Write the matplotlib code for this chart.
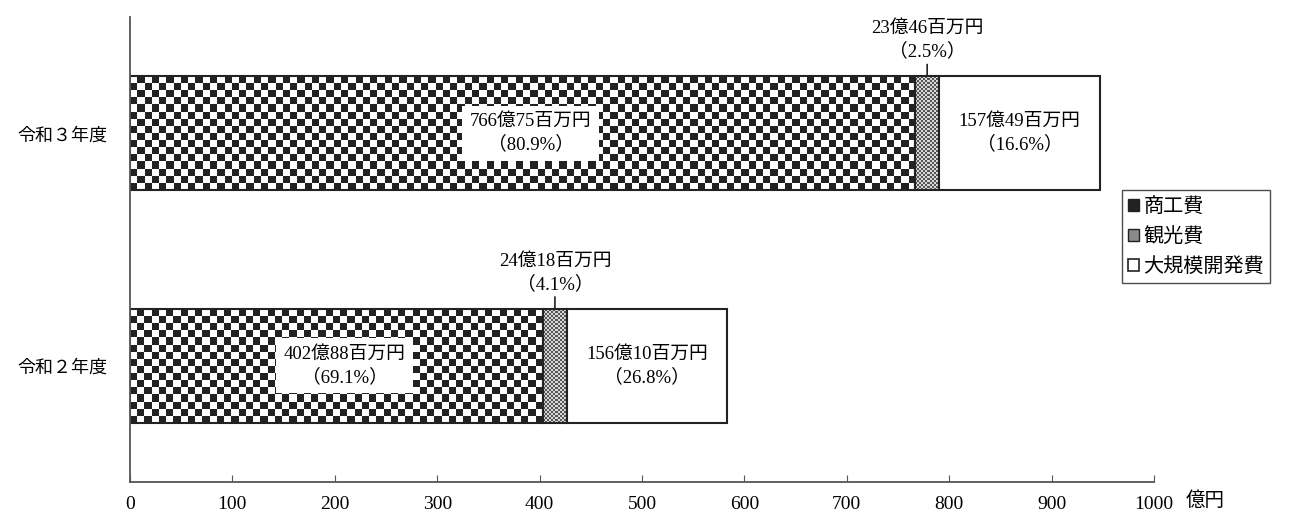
import numpy as np
import matplotlib
matplotlib.use("Agg")
import matplotlib.pyplot as plt
from matplotlib.colors import ListedColormap
from matplotlib.patches import Patch

plt.rcParams['font.family'] = ['Liberation Serif', 'Noto Sans CJK JP', 'DejaVu Sans']

# データ（単位：億円）
years = ['令和２年度', '令和３年度']
shoko = [402.88, 766.75]      # 商工費
kanko = [24.18, 23.46]        # 観光費
daikibo = [156.10, 157.49]    # 大規模開発費
shoko_pct = [69.1, 80.9]
kanko_pct = [4.1, 2.5]
daikibo_pct = [26.8, 16.6]
series_names = ['商工費', '観光費', '大規模開発費']
xticks = list(range(0, 1001, 100))

jp = ['Liberation Serif', 'Noto Sans CJK JP']
jp_sans = ['Noto Sans CJK JP', 'DejaVu Sans']


def oku_label(v):
    oku, hyakuman = divmod(int(round(v * 100)), 100)
    return f"{oku}億{hyakuman}百万円"


fig = plt.figure(figsize=(13, 5.13), dpi=100)
ax = fig.add_axes([130 / 1300, 1 - 482 / 513, 1024 / 1300, 465 / 513])
ax.set_xlim(0, 1000)
ax.set_ylim(-0.5, 1.5)

y = np.arange(len(years))
h = 0.49


def fill_checker(rect, cell, colors, zorder):
    # 棒の中を市松模様で塗る
    x0, y0 = rect.get_x(), rect.get_y()
    x1, y1 = x0 + rect.get_width(), y0 + rect.get_height()
    p0 = ax.transData.transform((x0, y0))
    p1 = ax.transData.transform((x1, y1))
    nx = max(1, int(round(abs(p1[0] - p0[0]) / cell)))
    ny = max(1, int(round(abs(p1[1] - p0[1]) / cell)))
    board = np.add.outer(np.arange(ny), np.arange(nx)) % 2
    im = ax.imshow(board, cmap=ListedColormap(colors), extent=(x0, x1, y0, y1),
                   aspect='auto', interpolation='nearest', zorder=zorder)
    im.set_clip_path(rect)


left = np.zeros(len(years))
b1 = ax.barh(y, shoko, h, left=left, color='white', edgecolor='none', zorder=1)
for r in b1:
    fill_checker(r, 7.3, ['white', '#222222'], 1.5)
ax.barh(y, shoko, h, left=left, color='none', edgecolor='#222222', lw=1.5, zorder=2)
left = left + np.array(shoko)

b2 = ax.barh(y, kanko, h, left=left, color='white', edgecolor='none', zorder=1)
for r in b2:
    fill_checker(r, 2, ['#d8d8d8', '#555555'], 1.5)
ax.barh(y, kanko, h, left=left, color='none', edgecolor='#222222', lw=1.5, zorder=2)
left2 = left + np.array(kanko)

ax.barh(y, daikibo, h, left=left2, color='white', edgecolor='#222222', lw=1.5, zorder=2)
ax.set_xlim(0, 1000)
ax.set_ylim(-0.5, 1.5)

# ラベル
fs = 13.5
for i in range(len(years)):
    ax.text(shoko[i] / 2 + 8, y[i], f"{oku_label(shoko[i])}\n（{shoko_pct[i]}%）",
            ha='center', va='center', fontsize=fs, family=jp, linespacing=1.4,
            bbox=dict(boxstyle='square,pad=0.4', fc='white', ec='none'), zorder=3)
    ax.text(left2[i] + daikibo[i] / 2, y[i], f"{oku_label(daikibo[i])}\n（{daikibo_pct[i]}%）",
            ha='center', va='center', fontsize=fs, family=jp, linespacing=1.4, zorder=3)
    ax.annotate(f"{oku_label(kanko[i])}\n（{kanko_pct[i]}%）",
                xy=(left[i] + kanko[i] / 2, y[i] + h / 2), xytext=(0, 16),
                textcoords='offset pixels', ha='center', va='bottom', fontsize=fs,
                family=jp, linespacing=1.4,
                arrowprops=dict(arrowstyle='-', color='#222222', lw=1.2,
                                shrinkA=1, shrinkB=0), zorder=3)

# 軸
for s in ['top', 'right']:
    ax.spines[s].set_visible(False)
for s in ['left', 'bottom']:
    ax.spines[s].set_color('#555555')
    ax.spines[s].set_linewidth(1.3)
ax.set_xticks(xticks)
ax.tick_params(axis='x', direction='in', length=5, color='#555555', pad=10, labelsize=14)
ax.set_yticks(y)
ax.set_yticklabels(years, family=jp_sans, fontsize=13)
ax.tick_params(axis='y', length=0, pad=16)
ax.text(1050, -0.039, '億円', transform=ax.get_xaxis_transform(), ha='center',
        va='center', fontsize=14, family=jp_sans)

handles = [Patch(fc='#222222', ec='#222222'),
           Patch(fc='#8a8a8a', ec='#222222'),
           Patch(fc='white', ec='#222222', lw=1.2)]
leg = fig.legend(handles, series_names, loc='upper left', bbox_to_anchor=(1122 / 1300, 1 - 190 / 513),
                 prop={'family': jp_sans, 'size': 14.5}, handlelength=0.55, handleheight=0.55,
                 handletextpad=0.2, labelspacing=0.45, borderpad=0.3, fancybox=False,
                 frameon=True, borderaxespad=0)
leg.get_frame().set_edgecolor('#222222')
leg.get_frame().set_linewidth(1.0)

fig.savefig('out.png', dpi=100)
